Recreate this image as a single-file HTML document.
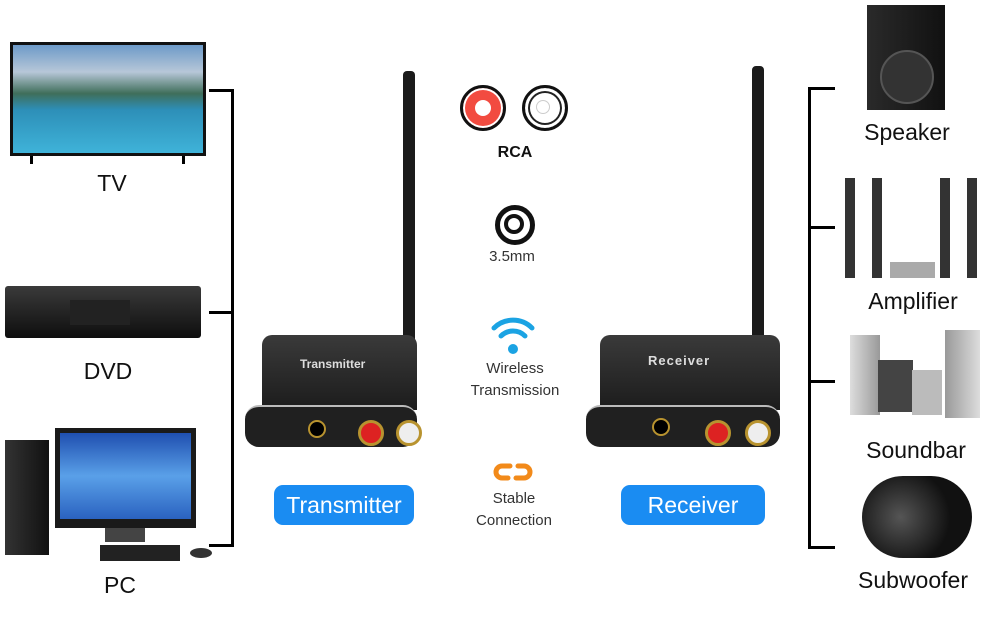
<!DOCTYPE html>
<html><head><style>
body{margin:0;width:1000px;height:618px;background:#fff;position:relative;overflow:hidden;font-family:"Liberation Sans",sans-serif}
.a{position:absolute}
.lbl{position:absolute;font-size:23px;color:#111;transform:translateX(-50%);white-space:nowrap}
.sm{position:absolute;font-size:15px;color:#333;transform:translateX(-50%);text-align:center;line-height:22px;white-space:nowrap}
.btn{position:absolute;background:#1a8cf2;color:#fff;border-radius:9px;font-size:23px;text-align:center;line-height:40px;height:40px}
.k{background:#000}
</style></head><body>
<!-- TV -->
<div class="a" style="left:10px;top:42px;width:196px;height:114px;background:#111"></div>
<div class="a" style="left:13px;top:45px;width:190px;height:108px;background:linear-gradient(#6d9ac8 0%,#b7c7d8 25%,#3f6e5a 45%,#2d8fb8 60%,#3fb3d9 100%)"></div>
<div class="a k" style="left:30px;top:156px;width:3px;height:8px"></div>
<div class="a k" style="left:182px;top:156px;width:3px;height:8px"></div>
<div class="lbl" style="left:112px;top:170px">TV</div>
<!-- DVD -->
<div class="a" style="left:5px;top:286px;width:196px;height:52px;background:linear-gradient(#3a3a3a,#0e0e0e);border-radius:3px"></div>
<div class="a" style="left:70px;top:300px;width:60px;height:25px;background:#222"></div>
<div class="lbl" style="left:108px;top:358px">DVD</div>
<!-- PC -->
<div class="a" style="left:5px;top:440px;width:44px;height:115px;background:linear-gradient(90deg,#333,#111)"></div>
<div class="a" style="left:55px;top:428px;width:141px;height:100px;background:#1a1a1a"></div>
<div class="a" style="left:60px;top:433px;width:131px;height:86px;background:linear-gradient(#1f4fb0,#5aa0e8 50%,#2a62c0)"></div>
<div class="a" style="left:105px;top:528px;width:40px;height:14px;background:#444"></div>
<div class="a" style="left:100px;top:545px;width:80px;height:16px;background:#222"></div>
<div class="a" style="left:190px;top:548px;width:22px;height:10px;background:#333;border-radius:50%"></div>
<div class="lbl" style="left:120px;top:572px">PC</div>
<!-- left bracket -->
<div class="a k" style="left:231px;top:89px;width:3px;height:458px"></div>
<div class="a k" style="left:209px;top:89px;width:25px;height:3px"></div>
<div class="a k" style="left:209px;top:311px;width:25px;height:3px"></div>
<div class="a k" style="left:209px;top:544px;width:25px;height:3px"></div>
<!-- transmitter -->
<div class="a" style="left:403px;top:71px;width:12px;height:275px;background:#1b1b1b;border-radius:4px 4px 0 0"></div>
<div class="a" style="left:262px;top:335px;width:155px;height:75px;background:linear-gradient(#3a3a3a,#1c1c1c);border-radius:10px 10px 0 0"></div>
<div class="a" style="left:245px;top:405px;width:172px;height:40px;background:#202020;border-radius:14px;border-top:2px solid #bbb"></div>
<div class="a" style="left:300px;top:357px;color:#ddd;font-size:12px;font-weight:bold">Transmitter</div>
<div class="a" style="left:358px;top:420px;width:20px;height:20px;border-radius:50%;background:#d22;border:3px solid #b8932f"></div>
<div class="a" style="left:396px;top:420px;width:20px;height:20px;border-radius:50%;background:#eee;border:3px solid #b8932f"></div>
<div class="a" style="left:308px;top:420px;width:14px;height:14px;border-radius:50%;background:#000;border:2px solid #b8932f"></div>
<div class="btn" style="left:274px;top:485px;width:140px">Transmitter</div>
<!-- center icons -->
<div class="a" style="left:460px;top:85px;width:40px;height:40px;border-radius:50%;border:3px solid #111;background:#f24b40;box-shadow:inset 0 0 0 2px #fff"></div>
<div class="a" style="left:475px;top:100px;width:16px;height:16px;border-radius:50%;background:#fff"></div>
<div class="a" style="left:522px;top:85px;width:40px;height:40px;border-radius:50%;border:3px solid #111;background:#fff;box-shadow:inset 0 0 0 3px #fff,inset 0 0 0 5px #222"></div>
<div class="a" style="left:536px;top:100px;width:12px;height:12px;border-radius:50%;border:1px solid #ccc"></div>
<div class="sm" style="left:515px;top:142px;font-weight:bold;color:#111;font-size:16px">RCA</div>
<div class="a" style="left:495px;top:205px;width:30px;height:30px;border-radius:50%;border:5px solid #111"></div>
<div class="a" style="left:504px;top:214px;width:12px;height:12px;border-radius:50%;border:4px solid #111"></div>
<div class="sm" style="left:512px;top:246px">3.5mm</div>
<svg class="a" style="left:490px;top:314px" width="46" height="42" viewBox="0 0 46 42">
<path d="M4 14 A27 27 0 0 1 42 14" fill="none" stroke="#1ba3e3" stroke-width="5" stroke-linecap="round"/>
<path d="M11 22 A17 17 0 0 1 35 22" fill="none" stroke="#1ba3e3" stroke-width="5" stroke-linecap="round"/>
<circle cx="23" cy="35" r="5" fill="#1ba3e3"/></svg>
<div class="sm" style="left:515px;top:358px">Wireless<br>Transmission</div>
<svg class="a" style="left:490px;top:460px" width="46" height="24" viewBox="0 0 46 24">
<path d="M20 6 H12 A6 6 0 0 0 12 18 H18 M26 18 H34 A6 6 0 0 0 34 6 H28" fill="none" stroke="#f28a1a" stroke-width="5" stroke-linecap="round"/></svg>
<div class="sm" style="left:514px;top:488px">Stable<br>Connection</div>
<!-- receiver -->
<div class="a" style="left:752px;top:66px;width:12px;height:280px;background:#1b1b1b;border-radius:4px 4px 0 0"></div>
<div class="a" style="left:600px;top:335px;width:180px;height:75px;background:linear-gradient(#3a3a3a,#1c1c1c);border-radius:10px 10px 0 0"></div>
<div class="a" style="left:586px;top:405px;width:194px;height:40px;background:#202020;border-radius:14px;border-top:2px solid #bbb"></div>
<div class="a" style="left:648px;top:353px;color:#ddd;font-size:13px;font-weight:bold;letter-spacing:1px">Receiver</div>
<div class="a" style="left:705px;top:420px;width:20px;height:20px;border-radius:50%;background:#d22;border:3px solid #b8932f"></div>
<div class="a" style="left:745px;top:420px;width:20px;height:20px;border-radius:50%;background:#eee;border:3px solid #b8932f"></div>
<div class="a" style="left:652px;top:418px;width:14px;height:14px;border-radius:50%;background:#000;border:2px solid #b8932f"></div>
<div class="btn" style="left:621px;top:485px;width:144px">Receiver</div>
<!-- right bracket -->
<div class="a k" style="left:808px;top:87px;width:3px;height:462px"></div>
<div class="a k" style="left:808px;top:87px;width:27px;height:3px"></div>
<div class="a k" style="left:808px;top:226px;width:27px;height:3px"></div>
<div class="a k" style="left:808px;top:380px;width:27px;height:3px"></div>
<div class="a k" style="left:808px;top:546px;width:27px;height:3px"></div>
<!-- speaker -->
<div class="a" style="left:867px;top:5px;width:78px;height:105px;background:linear-gradient(90deg,#2a2a2a,#111)"></div>
<div class="a" style="left:880px;top:50px;width:50px;height:50px;border-radius:50%;background:#333;border:2px solid #555"></div>
<div class="lbl" style="left:907px;top:119px">Speaker</div>
<!-- amplifier -->
<div class="a" style="left:845px;top:178px;width:10px;height:100px;background:#333"></div>
<div class="a" style="left:872px;top:178px;width:10px;height:100px;background:#333"></div>
<div class="a" style="left:940px;top:178px;width:10px;height:100px;background:#333"></div>
<div class="a" style="left:967px;top:178px;width:10px;height:100px;background:#333"></div>
<div class="a" style="left:890px;top:262px;width:45px;height:16px;background:#aaa"></div>
<div class="lbl" style="left:913px;top:288px">Amplifier</div>
<!-- soundbar -->
<div class="a" style="left:850px;top:335px;width:30px;height:80px;background:linear-gradient(90deg,#ddd,#999)"></div>
<div class="a" style="left:945px;top:330px;width:35px;height:88px;background:linear-gradient(90deg,#999,#ddd)"></div>
<div class="a" style="left:878px;top:360px;width:35px;height:52px;background:#444"></div>
<div class="a" style="left:912px;top:370px;width:30px;height:45px;background:#bbb"></div>
<div class="lbl" style="left:916px;top:437px">Soundbar</div>
<!-- subwoofer -->
<div class="a" style="left:862px;top:476px;width:110px;height:82px;border-radius:45px;background:radial-gradient(circle at 35% 50%,#555,#111 60%)"></div>
<div class="lbl" style="left:913px;top:567px">Subwoofer</div>
</body></html>
